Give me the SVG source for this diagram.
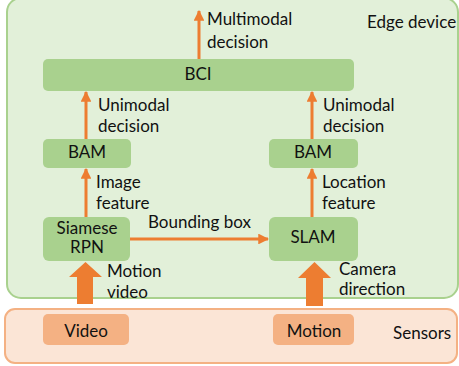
<svg xmlns="http://www.w3.org/2000/svg" width="459" height="366" viewBox="0 0 459 366">
  <defs>
    <style>
      .lbl { font-family: Lato, "Open Sans", "Liberation Sans", sans-serif; font-size: 17px; fill: #111; }
      .mid { text-anchor: middle; }
      .proc { fill: #A9D18E; }
      .src { fill: #F4B183; }
      .thin { stroke: #ED7D31; stroke-width: 3; fill: none; }
      .big { fill: #ED7D31; }
    </style>
    <marker id="head" viewBox="0 0 10 10" refX="9" refY="5" markerWidth="3.6" markerHeight="3.6" orient="auto" markerUnits="strokeWidth">
      <path d="M0,0 L10,5 L0,10 Z" fill="#ED7D31"/>
    </marker>
  </defs>

  <!-- containers -->
  <g id="edge-device">
    <rect x="7" y="-2" width="451" height="300" rx="14" fill="#E2F0D9" stroke="#A9D18E" stroke-width="2"/>
    <text class="lbl" x="367" y="28">Edge device</text>
  </g>
  <g id="sensors">
    <rect x="5" y="309" width="452" height="54" rx="10" fill="#FBE5D6" stroke="#F4B183" stroke-width="2"/>
    <text class="lbl" x="393" y="339">Sensors</text>
  </g>

  <!-- processing nodes -->
  <g id="bci">
    <rect class="proc" x="43" y="59" width="311" height="32" rx="5"/>
    <text class="lbl mid" x="198" y="80">BCI</text>
  </g>
  <g id="bam-left">
    <rect class="proc" x="43" y="139" width="88" height="29" rx="5"/>
    <text class="lbl mid" x="87" y="158">BAM</text>
  </g>
  <g id="bam-right">
    <rect class="proc" x="269" y="139" width="89" height="29" rx="5"/>
    <text class="lbl mid" x="313" y="158">BAM</text>
  </g>
  <g id="siamese-rpn">
    <rect class="proc" x="43" y="217" width="87" height="44" rx="6"/>
    <text class="lbl mid" x="87" y="234">Siamese</text>
    <text class="lbl mid" x="87" y="253">RPN</text>
  </g>
  <g id="slam">
    <rect class="proc" x="269" y="217" width="89" height="44" rx="6"/>
    <text class="lbl mid" x="313" y="243">SLAM</text>
  </g>
  <g id="video">
    <rect class="src" x="43" y="314" width="86" height="31" rx="5"/>
    <text class="lbl mid" x="86" y="337">Video</text>
  </g>
  <g id="motion">
    <rect class="src" x="273" y="314" width="81" height="31" rx="5"/>
    <text class="lbl mid" x="314" y="337">Motion</text>
  </g>

  <!-- connectors -->
  <g id="connectors">
    <line class="thin" x1="199" y1="59" x2="199" y2="11" marker-end="url(#head)"/>
    <line class="thin" x1="86" y1="139" x2="86" y2="92" marker-end="url(#head)"/>
    <line class="thin" x1="312" y1="139" x2="312" y2="92" marker-end="url(#head)"/>
    <line class="thin" x1="86" y1="217" x2="86" y2="169" marker-end="url(#head)"/>
    <line class="thin" x1="312" y1="217" x2="312" y2="169" marker-end="url(#head)"/>
    <line class="thin" x1="130" y1="239" x2="268" y2="239" marker-end="url(#head)"/>
    <path class="big" d="M77,304 L77,277 L69,277 L85.5,262 L102,277 L93,277 L93,304 Z"/>
    <path class="big" d="M306,306 L306,278 L298,278 L314.5,262 L331,278 L323,278 L323,306 Z"/>
  </g>

  <!-- connector labels -->
  <g id="connector-labels">
    <text class="lbl" x="207" y="25">Multimodal</text>
    <text class="lbl" x="207" y="48">decision</text>
    <text class="lbl" x="98" y="111">Unimodal</text>
    <text class="lbl" x="98" y="132">decision</text>
    <text class="lbl" x="323" y="111">Unimodal</text>
    <text class="lbl" x="323" y="132">decision</text>
    <text class="lbl" x="96" y="188">Image</text>
    <text class="lbl" x="96" y="209">feature</text>
    <text class="lbl" x="322" y="188">Location</text>
    <text class="lbl" x="322" y="209">feature</text>
    <text class="lbl" x="148" y="228">Bounding box</text>
    <text class="lbl" x="107" y="277">Motion</text>
    <text class="lbl" x="107" y="298">video</text>
    <text class="lbl" x="339" y="275">Camera</text>
    <text class="lbl" x="339" y="295">direction</text>
  </g>
</svg>
